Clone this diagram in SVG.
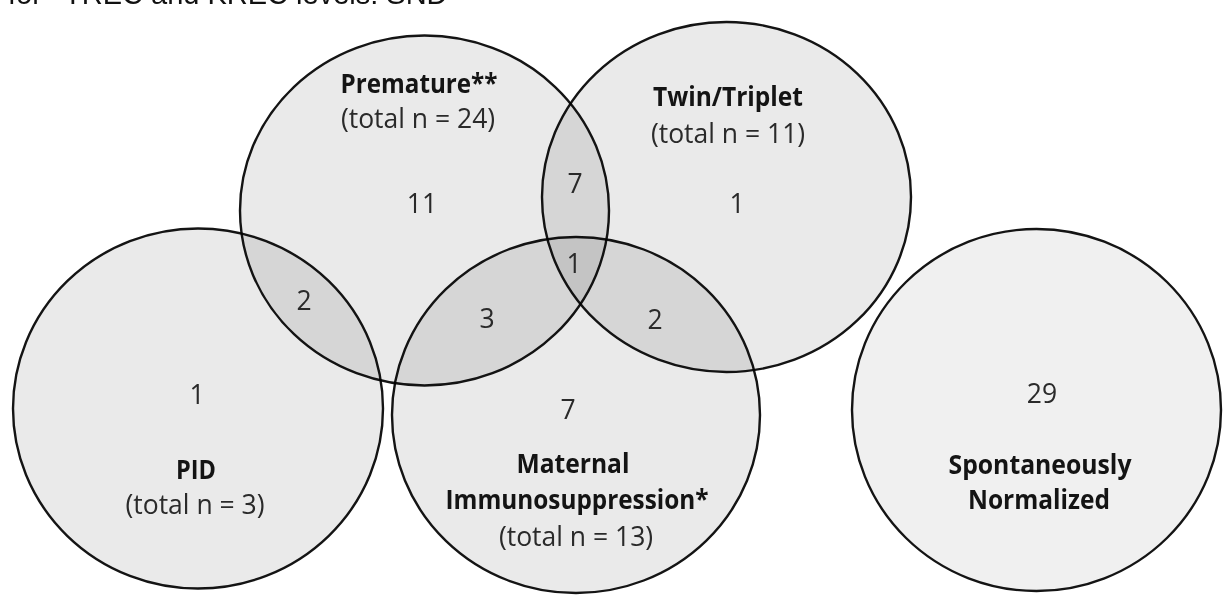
<svg xmlns="http://www.w3.org/2000/svg" width="1223" height="595" viewBox="0 0 1223 595">
<style>
.set{fill:#eaeaea;stroke:#141414;stroke-width:2.4;mix-blend-mode:multiply}
.spont{fill:#f0f0f0;stroke:#141414;stroke-width:2.4}
.t{font-family:"Open Sans","Liberation Sans",sans-serif;text-anchor:middle}
.b{font-weight:bold;font-size:26px;fill:#141414}
.r{font-size:26.5px;fill:#2a2a2a}
.cap{font-family:"Liberation Sans",Arial,sans-serif;font-size:29px;fill:#111}
</style>
<rect width="1223" height="595" fill="#ffffff"/>
<text class="cap" y="4"><tspan x="8">for</tspan><tspan x="64">TREC and KREC levels: SND</tspan></text>
<g id="premature">
<ellipse class="set" cx="424.5" cy="210.5" rx="184.5" ry="175"/>
<text class="t b" x="419" y="93" textLength="157" lengthAdjust="spacingAndGlyphs">Premature**</text>
<text class="t r" x="418" y="128">(total n = 24)</text>
</g>
<g id="twin-triplet">
<ellipse class="set" cx="726.5" cy="197" rx="184.5" ry="175"/>
<text class="t b" x="728" y="106" textLength="150" lengthAdjust="spacingAndGlyphs">Twin/Triplet</text>
<text class="t r" x="728" y="143">(total n = 11)</text>
</g>
<g id="pid">
<ellipse class="set" cx="198" cy="408.5" rx="185" ry="180"/>
<text class="t b" x="196" y="479" textLength="40" lengthAdjust="spacingAndGlyphs">PID</text>
<text class="t r" x="195" y="514">(total n = 3)</text>
</g>
<g id="maternal">
<ellipse class="set" cx="576" cy="415" rx="184" ry="178"/>
<text class="t b" x="573" y="473" textLength="113" lengthAdjust="spacingAndGlyphs">Maternal</text>
<text class="t b" x="577" y="509" textLength="263" lengthAdjust="spacingAndGlyphs">Immunosuppression*</text>
<text class="t r" x="576" y="546">(total n = 13)</text>
</g>
<g id="spontaneous">
<ellipse class="spont" cx="1036.5" cy="410" rx="184.5" ry="181"/>
<text class="t r" x="1042" y="403">29</text>
<text class="t b" x="1040" y="474" textLength="183" lengthAdjust="spacingAndGlyphs">Spontaneously</text>
<text class="t b" x="1039" y="509" textLength="142" lengthAdjust="spacingAndGlyphs">Normalized</text>
</g>
<g id="counts">
<text class="t r" x="422" y="213">11</text>
<text class="t r" x="575" y="193">7</text>
<text class="t r" x="737" y="213">1</text>
<text class="t r" x="574" y="273">1</text>
<text class="t r" x="304" y="310">2</text>
<text class="t r" x="197" y="404">1</text>
<text class="t r" x="487" y="328">3</text>
<text class="t r" x="655" y="329">2</text>
<text class="t r" x="568" y="419">7</text>
</g>
<g id="connectors"/>
</svg>
